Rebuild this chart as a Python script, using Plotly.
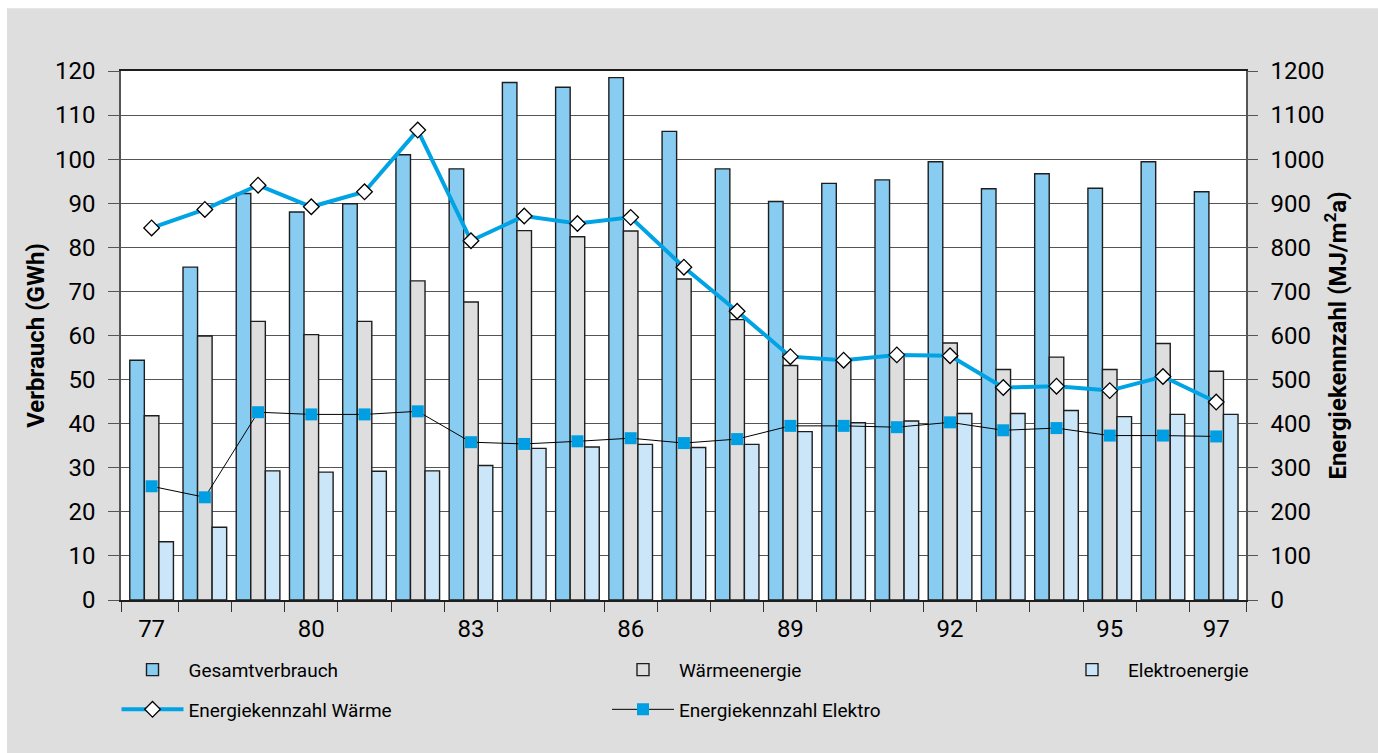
import plotly.graph_objects as go

years = list(range(1977, 1998))
year_labels = ["77", "80", "83", "86", "89", "92", "95", "97"]
label_years = [1977, 1980, 1983, 1986, 1989, 1992, 1995, 1997]

gesamt = [54.4, 75.5, 92.2, 88.0, 89.9, 101.0, 97.8, 117.4, 116.3, 118.5, 106.3,
          97.8, 90.4, 94.5, 95.3, 99.4, 93.3, 96.7, 93.4, 99.4, 92.6]
waerme = [41.8, 59.9, 63.2, 60.2, 63.2, 72.4, 67.6, 83.8, 82.4, 83.7, 72.8,
          63.6, 53.2, 54.2, 55.8, 58.3, 52.3, 55.1, 52.3, 58.2, 51.9]
elektro = [13.2, 16.5, 29.3, 29.0, 29.2, 29.3, 30.5, 34.4, 34.7, 35.3, 34.6,
           35.3, 38.2, 40.2, 40.6, 42.3, 42.3, 43.0, 41.6, 42.1, 42.1]
ekz_waerme = [844, 886, 941, 892, 926, 1066, 815, 871, 854, 868, 755,
              655, 552, 544, 556, 554, 482, 485, 475, 507, 449]
ekz_elektro = [258, 233, 426, 421, 421, 428, 358, 354, 360, 367, 356,
               365, 395, 395, 392, 403, 385, 390, 373, 373, 371]

FONT = "Roboto, Liberation Sans, sans-serif"
BG = "#dedede"
OUT = "#1e1e1e"

fig = go.Figure()
fig.add_bar(x=years, y=gesamt, name="Gesamtverbrauch", marker=dict(color="#88ccf2", line=dict(color=OUT, width=1.4)),
            legend="legend", legendgroup="g1")
fig.add_bar(x=years, y=waerme, name="Wärmeenergie", marker=dict(color="#dedede", line=dict(color=OUT, width=1.4)),
            legend="legend2", legendgroup="g2")
fig.add_bar(x=years, y=elektro, name="Elektroenergie", marker=dict(color="#cbe6f8", line=dict(color=OUT, width=1.4)),
            legend="legend3", legendgroup="g3")
fig.add_scatter(x=years, y=ekz_waerme, name="Energiekennzahl Wärme", yaxis="y2", mode="lines+markers",
                line=dict(color="#00a3e4", width=4),
                marker=dict(symbol="diamond", size=12, color="white", line=dict(color="black", width=1.3)),
                legend="legend", legendgroup="g4")
fig.add_scatter(x=years, y=ekz_elektro, name="Energiekennzahl Elektro", yaxis="y2", mode="lines+markers",
                line=dict(color="black", width=1),
                marker=dict(symbol="square", size=12, color="#009fe3"),
                legend="legend2", legendgroup="g5")

# white strip around the grey panel
fig.add_shape(type="rect", xref="paper", yref="paper", x0=-0.2, x1=(7 - 121) / 1125, y0=-0.5, y1=1.3,
              fillcolor="white", line_width=0, layer="above")
fig.add_shape(type="rect", xref="paper", yref="paper", x0=-0.2, x1=1.3, y0=(600 - 8) / 529.3, y1=1.3,
              fillcolor="white", line_width=0, layer="above")

boundaries = [y + 0.5 for y in years[:-1]]
legfont = dict(family=FONT, size=19, color="black")
leg_common = dict(orientation="v", yanchor="top", y=-0.096, bgcolor="rgba(0,0,0,0)",
                  font=legfont, tracegroupgap=12, itemwidth=62)

fig.update_layout(
    width=1378, height=753,
    margin=dict(l=121, r=132, t=71, b=153),
    paper_bgcolor=BG, plot_bgcolor="white",
    font=dict(family=FONT, color="black"),
    barmode="group", bargap=0.18, bargroupgap=0,
    xaxis=dict(range=[1976.425, 1997.56], tickmode="array", tickvals=label_years, ticktext=year_labels,
               ticks="outside", ticklen=6, tickcolor="rgba(0,0,0,0)",
               tickfont=dict(family=FONT, size=24),
               minor=dict(tickmode="array", tickvals=[1976.425] + boundaries + [1997.56],
                          ticks="outside", ticklen=10, tickcolor="#333", tickwidth=1.3, showgrid=False),
               showgrid=False, showline=True, linecolor=OUT, linewidth=2, mirror=True, zeroline=False),
    yaxis=dict(range=[0, 120], dtick=10, tick0=0, ticks="outside", ticklen=11, tickcolor="#555", tickwidth=1.3,
               ticklabelstandoff=8,
               tickfont=dict(family=FONT, size=24), showgrid=True, gridcolor="#555", gridwidth=1.2,
               showline=True, linecolor="#555", linewidth=1.5, zeroline=False,
               title=dict(text="<b>Verbrauch (GWh)</b>", font=dict(family=FONT, size=24), standoff=4)),
    yaxis2=dict(range=[0, 1200], dtick=100, tick0=0, overlaying="y", side="right", ticks="outside", ticklen=10,
                tickcolor="#555", tickwidth=1.3, ticklabelstandoff=8,
                tickfont=dict(family=FONT, size=24), showgrid=False,
                showline=True, linecolor="#555", linewidth=1.5, zeroline=False,
                title=dict(text="<b>Energiekennzahl (MJ/m<sup>2</sup>a)</b>", font=dict(family=FONT, size=24), standoff=6)),
    legend=dict(x=-0.004, xanchor="left", **leg_common),
    legend2=dict(x=(607 - 121) / 1125, xanchor="left", **leg_common),
    legend3=dict(x=(1056 - 121) / 1125, xanchor="left", **leg_common),
    showlegend=True,
)

fig.write_html("out.html")
